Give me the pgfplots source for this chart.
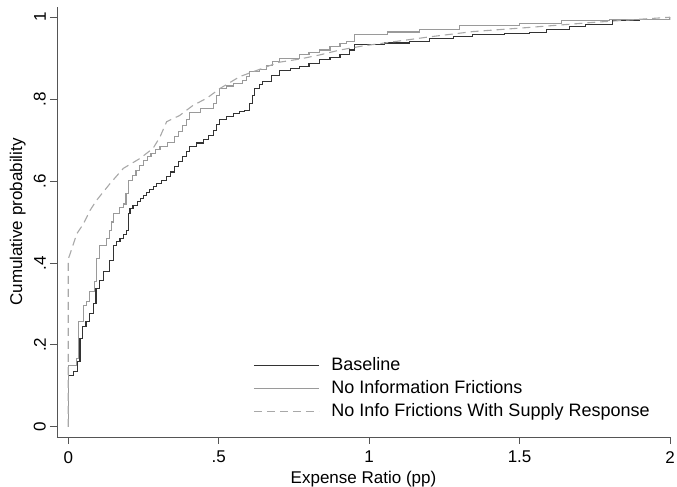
\documentclass[border=0pt]{standalone}
\usepackage{fontspec}
\setmainfont{Liberation Sans}
\usepackage{pgfplots}
\pgfplotsset{compat=1.18}
\definecolor{cdark}{HTML}{333333}
\definecolor{clight}{HTML}{9A9A9A}
\definecolor{cdash}{HTML}{A8A8A8}
\definecolor{caxis}{HTML}{555555}
\begin{document}
\begin{tikzpicture}
\fontsize{17bp}{20bp}\selectfont
\begin{axis}[
  at={(0,0)}, anchor=south west,
  scale only axis, width=613bp, height=430bp,
  xmin=-0.0375, xmax=2, ymin=-0.025, ymax=1.025,
  axis x line*=bottom, axis y line*=left,
  axis line style={color=caxis, line width=0.9bp, -},
  tick align=outside, major tick length=7bp,
  tick style={color=caxis, line width=0.9bp},
  xtick={0,0.5,1,1.5,2}, xticklabels={0,.5,1,1.5,2},
  ytick={0,0.2,0.4,0.6,0.8,1}, yticklabels={0,.2,.4,.6,.8,1},
  /pgf/number format/assume math mode=true,
  yticklabel style={rotate=90, anchor=south, inner sep=0pt, xshift=0bp, yshift=4bp},
  xticklabel style={anchor=north, inner sep=0pt, yshift=-7bp},
  xlabel={Expense Ratio (pp)}, ylabel={Cumulative probability},
  xlabel style={at={(axis description cs:0.5,0)}, anchor=south, yshift=-50bp, inner sep=0pt},
  ylabel style={at={(axis description cs:-0.064,0.5)}, anchor=center},
  legend style={at={(axis description cs:0.32,0.19)}, anchor=north west, draw=none, fill=none,
    inner sep=0pt, row sep=3.5bp, nodes={inner sep=2bp}, font=\fontsize{18bp}{21bp}\selectfont},
  legend cell align=left,
  legend image code/.code={\draw[#1] (0bp,0bp) -- (65bp,0bp); \path (75bp,0bp);},
]
\addplot[const plot, color=cdark, line width=1.1bp] coordinates {
(0,0) (0,0.126) (0.017,0.134) (0.030,0.159) (0.039,0.215) (0.048,0.244) (0.059,0.256)
(0.070,0.276) (0.085,0.300) (0.092,0.337) (0.103,0.358) (0.116,0.380) (0.138,0.406)
(0.150,0.443) (0.161,0.452) (0.172,0.460) (0.183,0.470) (0.194,0.480) (0.200,0.520) (0.205,0.532)
(0.215,0.540) (0.230,0.550) (0.240,0.558) (0.249,0.565) (0.260,0.572) (0.270,0.580)
(0.282,0.587) (0.293,0.593) (0.310,0.601) (0.326,0.610) (0.340,0.622) (0.354,0.636)
(0.367,0.648) (0.380,0.660) (0.392,0.672) (0.404,0.684) (0.425,0.693) (0.448,0.702)
(0.465,0.712) (0.482,0.724) (0.493,0.738) (0.504,0.750) (0.525,0.758) (0.548,0.765)
(0.570,0.769) (0.587,0.773) (0.603,0.789) (0.612,0.808) (0.620,0.826) (0.635,0.835)
(0.647,0.842) (0.675,0.857) (0.703,0.871) (0.740,0.875) (0.770,0.879) (0.800,0.888)
(0.836,0.896) (0.870,0.902) (0.903,0.908) (0.936,0.920) (0.952,0.934) (1.050,0.937)
(1.135,0.940) (1.200,0.948) (1.280,0.953) (1.345,0.958) (1.450,0.960) (1.534,0.963)
(1.590,0.971) (1.667,0.977) (1.720,0.982) (1.810,0.991) (1.900,0.995) (2.000,1.000)};
\addlegendentry{Baseline}
\addplot[const plot, color=clight, line width=1.1bp] coordinates {
(0,0) (0,0.150) (0.028,0.167) (0.035,0.256) (0.050,0.297) (0.060,0.305) (0.072,0.330)
(0.086,0.354) (0.094,0.410) (0.105,0.443) (0.127,0.460) (0.138,0.480) (0.145,0.500)
(0.150,0.520) (0.170,0.535) (0.183,0.544) (0.192,0.570) (0.200,0.601) (0.212,0.613)
(0.225,0.625) (0.237,0.638) (0.249,0.650) (0.262,0.659) (0.275,0.668) (0.290,0.676)
(0.305,0.684) (0.330,0.695) (0.354,0.708) (0.367,0.720) (0.380,0.735) (0.392,0.750)
(0.404,0.767) (0.440,0.778) (0.482,0.790) (0.493,0.808) (0.504,0.826) (0.526,0.832)
(0.548,0.838) (0.580,0.845) (0.592,0.856) (0.603,0.867) (0.637,0.873) (0.658,0.883)
(0.680,0.892) (0.703,0.900) (0.770,0.908) (0.800,0.914) (0.836,0.920) (0.870,0.928)
(0.903,0.936) (0.924,0.940) (0.952,0.958) (1.060,0.964) (1.168,0.970) (1.300,0.980)
(1.500,0.984) (1.640,0.992) (1.800,0.995) (2.000,1.000)};
\addlegendentry{No Information Frictions}
\addplot[color=cdash, line width=1.1bp, dash pattern=on 8bp off 5bp] coordinates {
(0,0) (0,0.41) (0.005,0.42) (0.028,0.471) (0.050,0.495) (0.072,0.528) (0.094,0.553)
(0.139,0.594) (0.183,0.631) (0.238,0.655) (0.282,0.680) (0.305,0.708) (0.327,0.745)
(0.370,0.760) (0.415,0.785) (0.460,0.802) (0.504,0.826) (0.570,0.855) (0.637,0.873)
(0.700,0.890) (0.770,0.898) (0.836,0.908) (0.903,0.920) (0.980,0.930) (1.200,0.952)
(1.345,0.965) (1.530,0.975) (1.756,0.988) (2.000,1.000)};
\addlegendentry{No Info Frictions With Supply Response}
\end{axis}
\pgfresetboundingbox
\useasboundingbox (-57bp,-50bp) rectangle (620bp,437bp);
\end{tikzpicture}
\end{document}
